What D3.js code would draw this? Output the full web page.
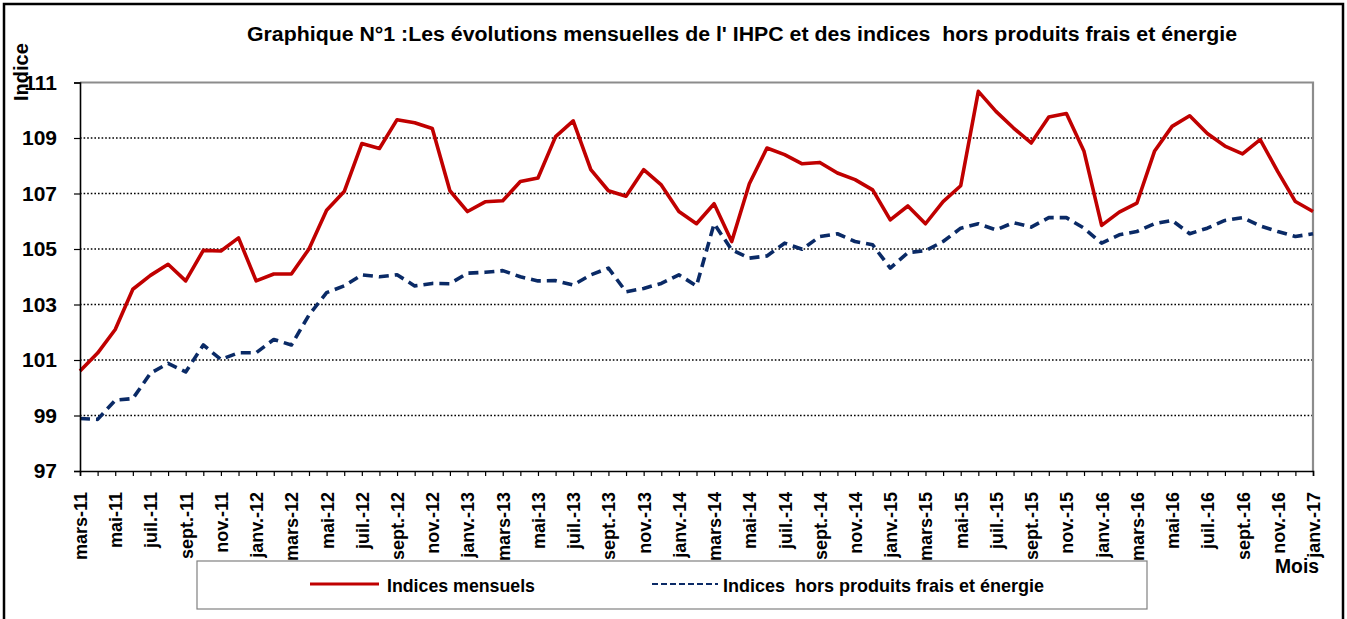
<!DOCTYPE html>
<html><head><meta charset="utf-8">
<script src="https://cdn.jsdelivr.net/npm/d3@7"></script>
<style>
html,body{margin:0;padding:0;background:#fff;}
svg{display:block;font-family:"Liberation Sans",Arial,sans-serif;}
.pre{white-space:pre;}
</style></head>
<body>
<svg id="c" width="1347" height="619"></svg>
<script>
const months = [
 "mars-11","avr.-11","mai-11","juin-11","juil.-11","août-11","sept.-11","oct.-11","nov.-11","déc.-11",
 "janv.-12","févr.-12","mars-12","avr.-12","mai-12","juin-12","juil.-12","août-12","sept.-12","oct.-12","nov.-12","déc.-12",
 "janv.-13","févr.-13","mars-13","avr.-13","mai-13","juin-13","juil.-13","août-13","sept.-13","oct.-13","nov.-13","déc.-13",
 "janv.-14","févr.-14","mars-14","avr.-14","mai-14","juin-14","juil.-14","août-14","sept.-14","oct.-14","nov.-14","déc.-14",
 "janv.-15","févr.-15","mars-15","avr.-15","mai-15","juin-15","juil.-15","août-15","sept.-15","oct.-15","nov.-15","déc.-15",
 "janv.-16","févr.-16","mars-16","avr.-16","mai-16","juin-16","juil.-16","août-16","sept.-16","oct.-16","nov.-16","déc.-16",
 "janv.-17"
];
const indicesMensuels = [
 100.6,101.25,102.1,103.55,104.05,104.45,103.85,104.95,104.93,105.4,
 103.85,104.1,104.1,105.0,106.4,107.07,108.8,108.62,109.66,109.55,109.34,107.1,
 106.35,106.7,106.74,107.43,107.56,109.05,109.62,107.86,107.1,106.9,107.86,107.31,
 106.35,105.91,106.63,105.27,107.35,108.64,108.4,108.07,108.12,107.74,107.5,107.13,
 106.05,106.55,105.91,106.71,107.28,110.68,109.96,109.36,108.82,109.76,109.88,108.52,
 105.85,106.33,106.65,108.52,109.42,109.8,109.16,108.71,108.43,108.94,107.79,106.71,
 106.35
];
const indicesHorsPFE = [
 98.89,98.86,99.55,99.61,100.52,100.88,100.57,101.54,101.02,101.26,
 101.26,101.74,101.54,102.62,103.43,103.67,104.07,104.0,104.07,103.67,103.76,103.75,
 104.13,104.16,104.22,104.0,103.85,103.86,103.7,104.07,104.31,103.46,103.58,103.76,
 104.07,103.67,105.91,104.97,104.67,104.75,105.21,104.99,105.45,105.55,105.27,105.15,
 104.31,104.87,104.94,105.27,105.75,105.91,105.69,105.95,105.79,106.13,106.13,105.75,
 105.21,105.51,105.63,105.91,106.03,105.55,105.75,106.03,106.13,105.83,105.63,105.45,
 105.55
];
const yTicks = [97,99,101,103,105,107,109,111];
const seriesNames = ["Indices mensuels","Indices  hors produits frais et énergie"];
const titleText = "Graphique N°1 :Les évolutions mensuelles de l' IHPC et des indices  hors produits frais et énergie";

const svg = d3.select("#c");
const L = 80, R = 1313, T = 82.5, B = 471;
const x = d3.scalePoint().domain(months).range([L, R]);
const y = d3.scaleLinear().domain([97,111]).range([B, T]);

// outer frame
svg.append("rect").attr("x",4).attr("y",4).attr("width",1339).attr("height",640)
  .attr("fill","#fff").attr("stroke","#000").attr("stroke-width",2.5);

// title
svg.append("text").attr("class","pre").attr("x",742).attr("y",41).attr("text-anchor","middle")
  .attr("font-size",20).attr("font-weight","bold")
  .attr("textLength",990).attr("lengthAdjust","spacingAndGlyphs").text(titleText);

// gridlines
svg.append("g").selectAll("line").data(yTicks.filter(v=>v>97 && v<111)).join("line")
  .attr("x1",L).attr("x2",R).attr("y1",d=>y(d)).attr("y2",d=>y(d))
  .attr("stroke","#000").attr("stroke-width",1.6).attr("stroke-dasharray","1.6,2");

// plot top/right border
svg.append("path").attr("d",`M${L},${y(111)}H${R}V${B}`).attr("fill","none")
  .attr("stroke","#8c8c8c").attr("stroke-width",2.2);

// lines
const line = d3.line().x((d,i)=>x(months[i])).y(d=>y(d));
svg.append("path").datum(indicesHorsPFE).attr("d",line).attr("fill","none")
  .attr("stroke","#0a2a66").attr("stroke-width",3.6).attr("stroke-dasharray","10,6")
  .attr("stroke-linejoin","round");
svg.append("path").datum(indicesMensuels).attr("d",line).attr("fill","none")
  .attr("stroke","#c00000").attr("stroke-width",3.6).attr("stroke-linejoin","round");

// y axis
const yAxis = svg.append("g").attr("transform",`translate(${L},0)`)
  .call(d3.axisLeft(y).tickValues(yTicks).tickFormat(d3.format("d")).tickSize(6).tickPadding(17));
yAxis.select(".domain").attr("stroke","#000").attr("stroke-width",1.6);
yAxis.selectAll(".tick line").attr("stroke","#000").attr("stroke-width",1.2);
yAxis.selectAll("text").attr("font-size",21).attr("font-weight","bold").attr("fill","#000")
  .attr("font-family","'Liberation Sans',Arial,sans-serif");

// x axis
const xAxis = svg.append("g").attr("transform",`translate(0,${B})`)
  .call(d3.axisBottom(x).tickValues(months).tickSize(5)
    .tickFormat((d,i)=> i%2===0 ? d : ""));
xAxis.select(".domain").attr("stroke","#000").attr("stroke-width",1.6);
xAxis.selectAll(".tick line").attr("stroke","#000").attr("stroke-width",1.2);
xAxis.selectAll("text").attr("font-size",18).attr("font-weight","bold").attr("fill","#000")
  .attr("font-family","'Liberation Sans',Arial,sans-serif")
  .attr("text-anchor","end").attr("transform","rotate(-90)")
  .attr("x",-21).attr("y",0).attr("dy","0.36em");

// axis titles
svg.append("text").attr("transform","translate(28,101) rotate(-90)")
  .attr("font-size",20).attr("font-weight","bold").text("Indice");

// legend
svg.append("rect").attr("x",197).attr("y",561).attr("width",950).attr("height",48)
  .attr("fill","#fff").attr("stroke","#808080").attr("stroke-width",1.2);
svg.append("line").attr("x1",310).attr("x2",379).attr("y1",584).attr("y2",584)
  .attr("stroke","#c00000").attr("stroke-width",3);
svg.append("text").attr("x",387).attr("y",591.5).attr("font-size",19).attr("font-weight","bold")
  .attr("textLength",148).attr("lengthAdjust","spacingAndGlyphs").text(seriesNames[0]);
svg.append("line").attr("x1",652).attr("x2",718).attr("y1",584).attr("y2",584)
  .attr("stroke","#0a2a66").attr("stroke-width",2.2).attr("stroke-dasharray","6,3");
svg.append("text").attr("class","pre").attr("x",723).attr("y",591.5).attr("font-size",19).attr("font-weight","bold")
  .attr("textLength",321).attr("lengthAdjust","spacingAndGlyphs").text(seriesNames[1]);

svg.append("text").attr("x",1275).attr("y",572.5).attr("font-size",20).attr("font-weight","bold")
  .attr("textLength",44).attr("lengthAdjust","spacingAndGlyphs").text("Mois");
</script>
</body></html>
